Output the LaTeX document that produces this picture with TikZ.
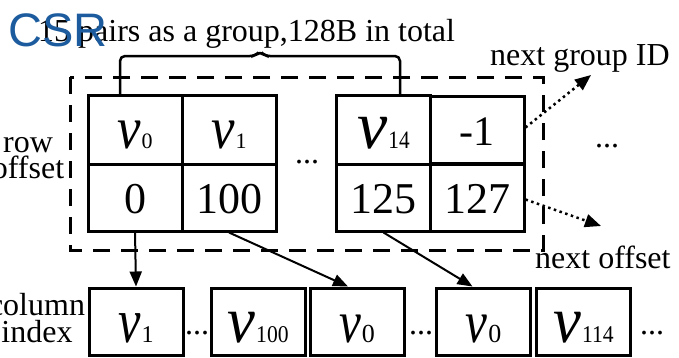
\documentclass[tikz,border=0pt]{standalone}
\usepackage{fontspec}
\usepackage{graphicx}
\setmainfont{Liberation Serif}
\newfontfamily\csrfont{Liberation Sans}
\usetikzlibrary{arrows.meta}
\definecolor{csrblue}{RGB}{28,92,158}
\newcommand\fs[1]{\fontsize{#1}{#1}\selectfont}
% \vlab{v size}{v xscale}{sub size}{sub xscale}{sub}
\newcommand\vlab[5]{\scalebox{#2}[1]{\fs{#1}\itshape v}\kern1pt\scalebox{#4}[1]{\fs{#3}#5}}
\begin{document}
\begin{tikzpicture}[x=1pt,y=-1pt,
  cell/.style={draw,line width=3pt,inner sep=0pt,minimum width=94pt,anchor=center},
  topcell/.style={cell,minimum height=69pt,text height=37pt,text depth=0pt},
  botcell/.style={cell,minimum height=67pt,text height=31pt,text depth=0pt,font=\fs{44}},
  idx/.style={draw,line width=3pt,inner sep=0pt,minimum width=94pt,minimum height=67pt,text height=41pt,text depth=0pt},
  lbl/.style={font=\fs{32},inner sep=0pt},
  solidarrow/.style={line width=2pt,-{Triangle[length=15pt,width=12pt]}},
  dotarrow/.style={line width=2.5pt,dash pattern=on 2.5pt off 3.5pt,-{Triangle[length=16pt,width=13pt]}},
  dashbox/.style={line width=3pt,dash pattern=on 17pt off 11pt}
]
\useasboundingbox (0,0) rectangle (679,357);
% title
\node[lbl,anchor=base west] (title) at (38,41) {15 pairs as a group,128B in total};
% bracket
\draw[line width=2.5pt,rounded corners=5pt] (120,95) -- (120,56) -- (255,56) -- (260,51) -- (265,56) -- (400,56) -- (400,95);
% dashed group box
\draw[dashbox] (70,77) rectangle (543,250);
% left block
\node[topcell] (a0) at (135,129.5) {\vlab{60}{0.88}{22}{1}{0}};
\node[topcell] (a1) at (229,129.5) {\vlab{60}{0.88}{22}{1}{1}};
\node[botcell] (b0) at (135,197.5) {0};
\node[botcell] (b1) at (229,197.5) {100};
% right block
\node[topcell] (c0) at (383.5,129.5) {\vlab{68}{1.0}{25}{0.85}{14}};
\node[botcell,font=\fs{42}] (c1) at (477,129.5) {-1};
\node[botcell] (d0) at (383.5,197.5) {125};
\node[botcell] (d1) at (477,197.5) {127};
% dots
\node[lbl,anchor=base] (dm) at (307,163) {...};
\node[lbl,anchor=base] (dr) at (607,147) {...};
% row offset labels
\node[lbl,anchor=base] (row) at (28,152) {row};
\node[lbl,anchor=base] (off) at (28,178) {offset};
% column index labels
\node[lbl,anchor=base] (col) at (37,315) {column};
\node[lbl,anchor=base] (ind) at (37,342) {index};
% column index boxes
\node[idx] (e1) at (136,321.5) {\vlab{63}{0.8}{24}{1}{1}};
\node[idx] (e2) at (258,321.5) {\vlab{66}{0.95}{24}{0.9}{100}};
\node[idx] (e3) at (357,321.5) {\vlab{60}{0.82}{26}{1}{0}};
\node[idx] (e4) at (483.5,321.5) {\vlab{60}{0.82}{26}{1}{0}};
\node[idx] (e5) at (583.5,321.5) {\vlab{66}{0.95}{24}{0.9}{114}};
\node[lbl,anchor=base] (d1b) at (197,334) {...};
\node[lbl,anchor=base] (d2b) at (421,334) {...};
\node[lbl,anchor=base] (d3b) at (652,334) {...};
% arrows
\draw[solidarrow] (b0.south) -- (e1.north);
\draw[solidarrow] (b1.south) -- ([xshift=-9pt]e3.north);
\draw[solidarrow] (d0.south) -- ([xshift=-11pt]e4.north);
% next labels
\node[lbl,anchor=base west] (ngid) at (490,65) {next group ID};
\node[lbl,anchor=base west] (noff) at (535,268) {next offset};
\coordinate (ngtip) at (591,75);
\coordinate (notip) at (601,226);
\draw[dotarrow] ([yshift=2pt]c1.east) -- (ngtip);
\draw[dotarrow] ([yshift=-2pt]d1.east) -- (notip);
% CSR overlay
\node[font=\csrfont\fs{47},text=csrblue,anchor=base west,inner sep=0pt] (csr) at (8,46) {CSR};
\end{tikzpicture}
\end{document}
